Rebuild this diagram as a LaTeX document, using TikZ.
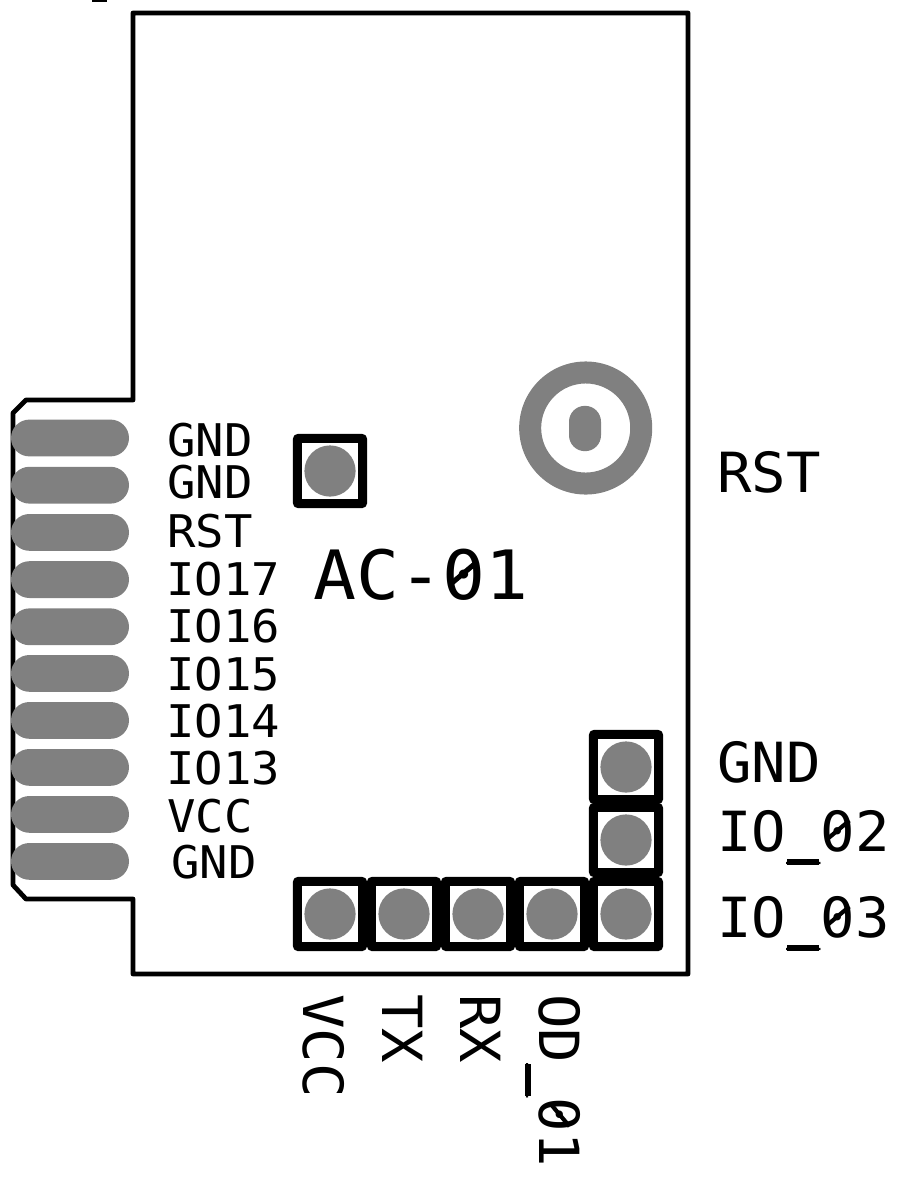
\documentclass[tikz,border=0pt]{standalone}
\usepackage{fontspec}
\setmainfont{DejaVu Sans Mono}
\newfontfamily\smallfam[FakeStretch=1.05]{DejaVu Sans Mono}
\newfontfamily\bigfam[FakeStretch=1.035]{DejaVu Sans Mono}
\newfontfamily\titlefam[FakeStretch=1.05]{DejaVu Sans Mono}
\definecolor{padgray}{gray}{0.5}
\newcommand\szero{\rlap{\kern.22em\textcolor{white}{\rule[.2em]{.16em}{.33em}}}\rlap{\kern.11em\raisebox{.2em}{\rotatebox{40}{\rule{.5em}{.075em}}}}0}
\newcommand\usc{\rlap{\kern.02em\rule[-.25em]{.58em}{.105em}}\_}
\tikzset{
  outline/.style={draw=black,line width=3.6pt,line join=round},
  pinbox/.style={draw=black,line width=6.8pt,line join=round,fill=white,minimum size=49pt,inner sep=0pt,outer sep=0pt,rounded corners=0.5pt},
  hole/.style={circle,fill=padgray,minimum size=38.4pt,inner sep=0pt},
  edgepad/.style={fill=padgray,rounded corners=13.8pt,minimum width=88.5pt,minimum height=27.6pt,inner sep=0pt},
  small/.style={anchor=base west,inner sep=0pt,font=\smallfam\fontsize{33.75pt}{36pt}\selectfont},
  big/.style={anchor=base west,inner sep=0pt,font=\bigfam\fontsize{41.5pt}{44pt}\selectfont},
  title/.style={anchor=base west,inner sep=0pt,font=\titlefam\fontsize{51pt}{56pt}\selectfont},
}
\begin{document}
\begin{tikzpicture}[x=0.75pt,y=-0.75pt]
\useasboundingbox (0,0) rectangle (897,1178);
\fill[black] (92,0) rectangle (107,2);
\draw[outline] (133,13) -- (688,13) -- (688,974) -- (133,974) -- (133,899) -- (26,899) -- (13,885) -- (13,413) -- (26,400) -- (133,400) -- cycle;
% edge pads
\foreach \n/\y in {1/438,2/485.2,3/532.4,4/579.6,5/626.8,6/673.4,7/720.4,8/767.4,9/814.4,10/861.4}
  \node[edgepad] (pad\n) at (70,\y) {};
% pin boxes and holes
\foreach \n/\x/\y in {s/330/471,a/330/914,b/404/914,c/478/914,d/552/914,e/626/914,f/626/840,g/626/767}{
  \node[pinbox] (box\n) at (\x,\y) {};
  \node[hole] (hole\n) at (\x,\y) {};
}
% ring
\fill[padgray,even odd rule] (585.7,428) circle[radius=49.9pt] (585.7,428) circle[radius=33.4pt];
\node[fill=padgray,minimum width=24pt,minimum height=34pt,rounded corners=11.9pt,inner sep=0pt] (oval) at (585,428.5) {};
% left labels
\node[small] (l1) at (167,456) {GND};
\node[small] (l2) at (167,498) {GND};
\node[small] (l3) at (167,547) {RST};
\node[small] (l4) at (166,595) {IO17};
\node[small] (l5) at (166,642) {IO16};
\node[small] (l6) at (166,690) {IO15};
\node[small] (l7) at (166,737) {IO14};
\node[small] (l8) at (166,784) {IO13};
\node[small] (l9) at (167,832) {VCC};
\node[small] (l10) at (171,878) {GND};
\node[title] (name) at (313,599) {AC-\szero 1};
% right labels
\node[big] (r1) at (717,492) {RST};
\node[big] (r2) at (717,782) {GND};
\node[big] (r3) at (717,851) {IO\usc\szero 2};
\node[big] (r4) at (717,937) {IO\usc\szero 3};
% bottom labels
\node[big,rotate=-90] (b1) at (303,994) {VCC};
\node[big,rotate=-90] (b2) at (382,994) {TX};
\node[big,rotate=-90] (b3) at (460,994) {RX};
\node[big,rotate=-90] (b4) at (539,994) {OD\usc\szero 1};
\end{tikzpicture}
\end{document}
